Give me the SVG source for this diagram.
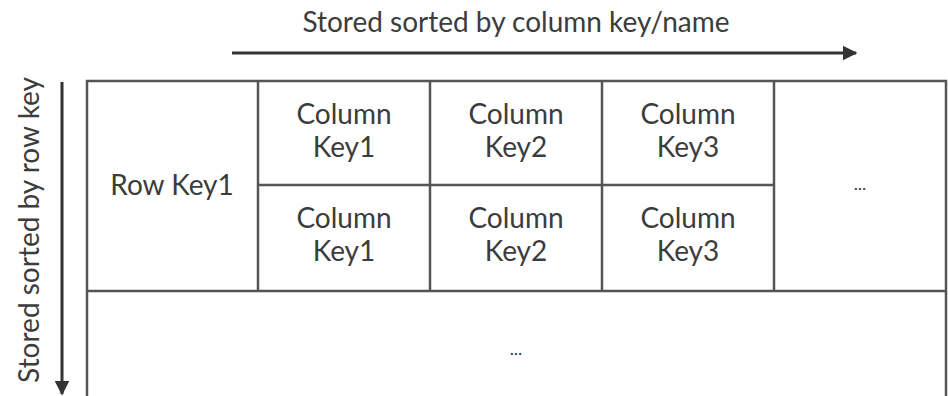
<svg xmlns="http://www.w3.org/2000/svg" width="948" height="396" viewBox="0 0 948 396">
  <style>
    .grid { fill: none; stroke: #555; stroke-width: 2.5; }
    .lbl { font-family: Lato, "Open Sans", "Liberation Sans", sans-serif; font-size: 28px; fill: #3c3c3c; text-anchor: middle; }
    .dots { font-size: 18px; }
    .axis { stroke: #333; stroke-width: 3; fill: none; }
  </style>
  <defs>
    <marker id="head" viewBox="0 0 10 10" refX="9" refY="5" markerWidth="5" markerHeight="5" orient="auto" markerUnits="strokeWidth">
      <path d="M0,0 L10,5 L0,10 Z" fill="#333"/>
    </marker>
  </defs>

  <rect width="948" height="396" fill="#fff"/>

  <!-- sort-order arrows -->
  <g id="connectors">
    <line class="axis" x1="232" y1="53" x2="856" y2="53" marker-end="url(#head)"/>
    <line class="axis" x1="62" y1="82" x2="62" y2="394" marker-end="url(#head)"/>
  </g>
  <text class="lbl" x="516" y="32">Stored sorted by column key/name</text>
  <text class="lbl" transform="translate(39,230) rotate(-90)">Stored sorted by row key</text>

  <!-- table frame -->
  <g id="frame">
    <path class="grid" d="M87,400 V81 H946 V400"/>
    <line class="grid" x1="87" y1="291" x2="946" y2="291"/>
    <line class="grid" x1="258" y1="81" x2="258" y2="291"/>
    <line class="grid" x1="430" y1="81" x2="430" y2="291"/>
    <line class="grid" x1="602" y1="81" x2="602" y2="291"/>
    <line class="grid" x1="774" y1="81" x2="774" y2="291"/>
    <line class="grid" x1="258" y1="185" x2="774" y2="185"/>
  </g>

  <g id="row-key1">
    <text class="lbl" x="172" y="195">Row Key1</text>
  </g>

  <g id="col-r1-k1">
    <text class="lbl" x="344" y="124">Column</text>
    <text class="lbl" x="344" y="157">Key1</text>
  </g>
  <g id="col-r1-k2">
    <text class="lbl" x="516" y="124">Column</text>
    <text class="lbl" x="516" y="157">Key2</text>
  </g>
  <g id="col-r1-k3">
    <text class="lbl" x="688" y="124">Column</text>
    <text class="lbl" x="688" y="157">Key3</text>
  </g>
  <g id="col-r2-k1">
    <text class="lbl" x="344" y="228">Column</text>
    <text class="lbl" x="344" y="261">Key1</text>
  </g>
  <g id="col-r2-k2">
    <text class="lbl" x="516" y="228">Column</text>
    <text class="lbl" x="516" y="261">Key2</text>
  </g>
  <g id="col-r2-k3">
    <text class="lbl" x="688" y="228">Column</text>
    <text class="lbl" x="688" y="261">Key3</text>
  </g>

  <g id="more-columns">
    <text class="lbl dots" x="860" y="190">...</text>
  </g>
  <g id="more-rows">
    <text class="lbl dots" x="516" y="355">...</text>
  </g>
</svg>
